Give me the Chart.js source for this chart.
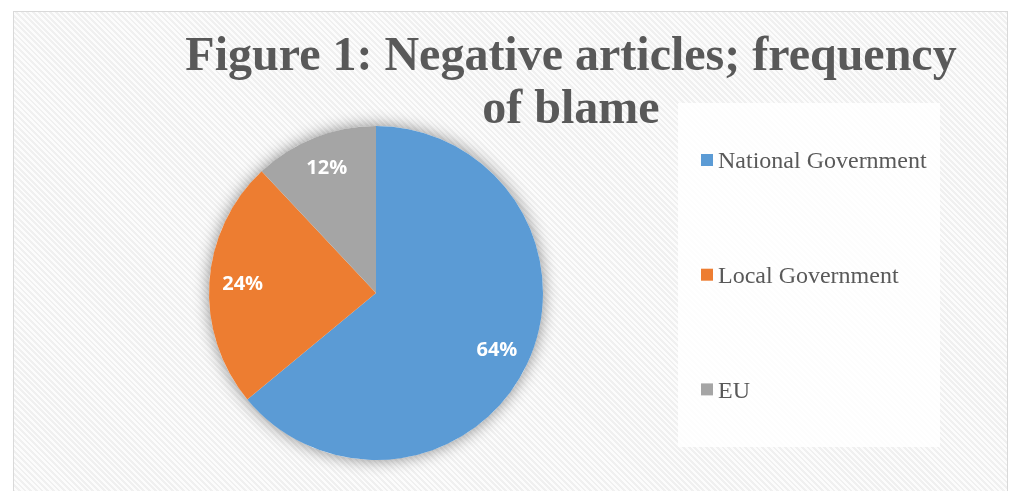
<!DOCTYPE html>
<html>
<head>
<meta charset="utf-8">
<script src="https://cdn.jsdelivr.net/npm/chart.js@4"></script>
<style>
  html, body { margin: 0; padding: 0; background: #ffffff; }
  #wrap { position: relative; width: 1014px; height: 491px; overflow: hidden; background: #ffffff; }
  #frame {
    position: absolute; left: 13px; top: 11px; width: 993px; height: 500px;
    border: 1px solid #d9d9d9;
    background: repeating-linear-gradient(45deg, #fcfcfc 0px, #fcfcfc 2px, #f0f0f0 2px, #f0f0f0 4px);
  }
  #c { position: absolute; left: 0; top: 0; }
</style>
</head>
<body>
<div id="wrap">
  <div id="frame"></div>
  <canvas id="c" width="1014" height="491"></canvas>
</div>
<script>
// ---- data ----
const categories = ['National Government', 'Local Government', 'EU'];
const shares = [64, 24, 12];
const sliceColors = ['#5B9BD5', '#ED7D31', '#A5A5A5'];
const titleLines = ['Figure 1: Negative articles; frequency', 'of blame'];

const TEXT_GRAY = '#595959';

// soft shadow under the whole pie
const pieShadow = {
  id: 'pieShadow',
  beforeDatasetsDraw(chart) {
    const arc = chart.getDatasetMeta(0).data[0];
    if (!arc) return;
    const {x, y, outerRadius} = arc.getProps(['x', 'y', 'outerRadius'], true);
    const ctx = chart.ctx;
    ctx.save();
    ctx.shadowColor = 'rgba(0,0,0,0.45)';
    ctx.shadowBlur = 16;
    ctx.shadowOffsetX = 0;
    ctx.shadowOffsetY = 0;
    ctx.fillStyle = '#ffffff';
    ctx.beginPath();
    ctx.arc(x, y, outerRadius, 0, Math.PI * 2);
    ctx.fill();
    ctx.restore();
  }
};

// percentage labels inside the slices
const sliceLabels = {
  id: 'sliceLabels',
  afterDatasetsDraw(chart) {
    const ctx = chart.ctx;
    const meta = chart.getDatasetMeta(0);
    const data = chart.data.datasets[0].data;
    const total = data.reduce((a, b) => a + b, 0);
    ctx.save();
    ctx.fillStyle = '#ffffff';
    ctx.font = 'bold 20px "Open Sans", sans-serif';
    ctx.textAlign = 'center';
    ctx.textBaseline = 'middle';
    meta.data.forEach((arc, i) => {
      const p = arc.getProps(['x', 'y', 'startAngle', 'endAngle', 'outerRadius'], true);
      const mid = (p.startAngle + p.endAngle) / 2;
      const r = p.outerRadius * 0.8;
      const pct = Math.round(data[i] / total * 100) + '%';
      ctx.fillText(pct, p.x + Math.cos(mid) * r, p.y + Math.sin(mid) * r);
    });
    ctx.restore();
  }
};

// title and legend panel
const decorations = {
  id: 'decorations',
  beforeDraw(chart) {
    const ctx = chart.ctx;
    ctx.save();
    ctx.fillStyle = 'rgba(255,255,255,0.85)';
    ctx.fillRect(678, 103, 262, 344);
    ctx.restore();
  },
  afterDraw(chart) {
    const ctx = chart.ctx;
    ctx.save();
    // title
    ctx.fillStyle = TEXT_GRAY;
    ctx.font = 'bold 48px "Liberation Serif", "Times New Roman", serif';
    ctx.textAlign = 'center';
    ctx.textBaseline = 'alphabetic';
    titleLines.forEach((line, i) => ctx.fillText(line, 571, 70 + i * 53));
    // legend
    const labels = chart.data.labels;
    const colors = chart.data.datasets[0].backgroundColor;
    ctx.font = '24px "Liberation Serif", "Times New Roman", serif';
    ctx.textAlign = 'left';
    labels.forEach((lab, i) => {
      const cy = 160 + i * 114.7;
      ctx.fillStyle = colors[i];
      ctx.fillRect(701, cy - 6, 12, 12);
      ctx.fillStyle = TEXT_GRAY;
      ctx.fillText(lab, 718, cy + 8.3);
    });
    ctx.restore();
  }
};

new Chart(document.getElementById('c'), {
  type: 'pie',
  data: {
    labels: categories,
    datasets: [{
      data: shares,
      backgroundColor: sliceColors,
      borderWidth: 0,
      hoverOffset: 0
    }]
  },
  options: {
    responsive: false,
    devicePixelRatio: 1,
    animation: false,
    layout: { padding: { left: 209, right: 471, top: 126, bottom: 31 } },
    plugins: {
      legend: { display: false },
      title: { display: false },
      tooltip: { enabled: false }
    }
  },
  plugins: [pieShadow, sliceLabels, decorations]
});
</script>
</body>
</html>
